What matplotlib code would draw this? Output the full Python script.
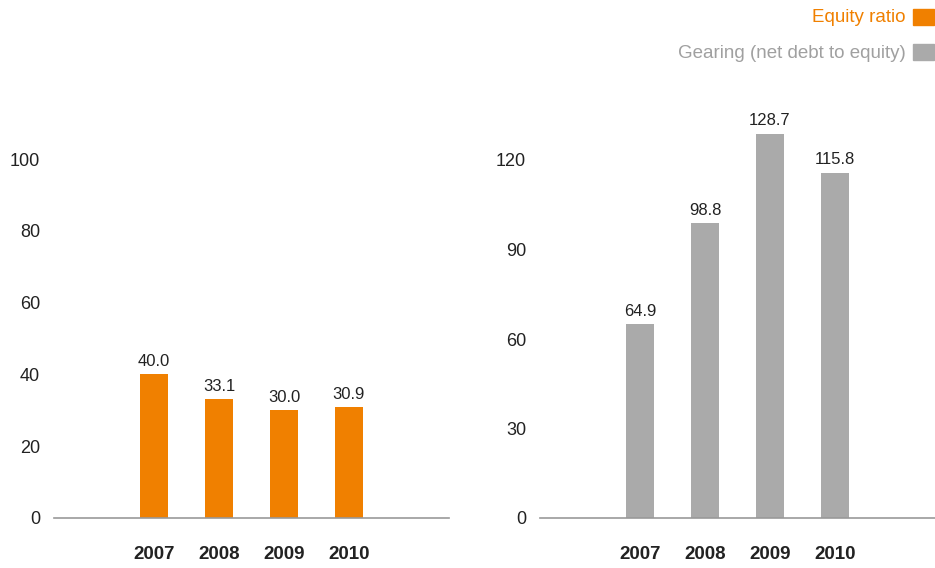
import matplotlib
matplotlib.use("Agg")
import matplotlib.pyplot as plt
from matplotlib.patches import Rectangle

plt.rcParams['font.family'] = ['Liberation Sans', 'DejaVu Sans']

years = ["2007", "2008", "2009", "2010"]
equity_ratio = [40.0, 33.1, 30.0, 30.9]
gearing = [64.9, 98.8, 128.7, 115.8]
left_ticks = [0, 20, 40, 60, 80, 100]
right_ticks = [0, 30, 60, 90, 120]

ORANGE = "#F08000"
GRAY = "#AAAAAA"
TEXT = "#222222"

W, H = 935, 568
fig = plt.figure(figsize=(W / 100, H / 100), dpi=100)

def fx(px):
    return px / W

def fy(py):
    return (H - py) / H

def draw(ax, values, color, ticks, ymax):
    x = list(range(len(values)))
    bars = ax.bar(x, values, width=0.42, color=color, zorder=2)
    for b in bars:
        b.set_clip_on(False)
    ax.set_xlim(-1.54, 4.54)
    ax.set_ylim(0, ymax)
    ax.set_yticks(ticks)
    ax.set_yticklabels([str(t) for t in ticks])
    ax.set_xticks(x)
    ax.set_xticklabels(years, fontweight='bold', fontsize=13.5, color=TEXT)
    ax.tick_params(axis='y', length=0, pad=10, labelsize=13, labelcolor=TEXT)
    ax.tick_params(axis='x', length=0, pad=20)
    for s in ['top', 'right', 'left']:
        ax.spines[s].set_visible(False)
    ax.spines['bottom'].set_color('#999999')
    ax.spines['bottom'].set_linewidth(1.2)
    for xi, v in zip(x, values):
        ax.annotate(f"{v:.1f}", (xi, v), xytext=(0, 4), textcoords='offset points',
                    ha='center', va='bottom', fontsize=12, color=TEXT, annotation_clip=False)

ax1 = fig.add_axes([fx(54), fy(518), fx(449) - fx(54), fy(159) - fy(518)])
draw(ax1, equity_ratio, ORANGE, left_ticks, 100)

ax2 = fig.add_axes([fx(540), fy(518), fx(935) - fx(540), fy(160) - fy(518)])
draw(ax2, gearing, GRAY, right_ticks, 120)

# Legend
fig.text(fx(906), fy(18), "Equity ratio", ha='right', va='center', fontsize=13.5, color=ORANGE)
fig.patches.append(Rectangle((fx(913), fy(25)), fx(21), fy(9) - fy(25), transform=fig.transFigure,
                             color=ORANGE, figure=fig))
fig.text(fx(906), fy(53), "Gearing (net debt to equity)", ha='right', va='center', fontsize=13.5, color="#A0A0A0")
fig.patches.append(Rectangle((fx(913), fy(60)), fx(21), fy(44) - fy(60), transform=fig.transFigure,
                             color=GRAY, figure=fig))

fig.savefig("out.png", dpi=100)
